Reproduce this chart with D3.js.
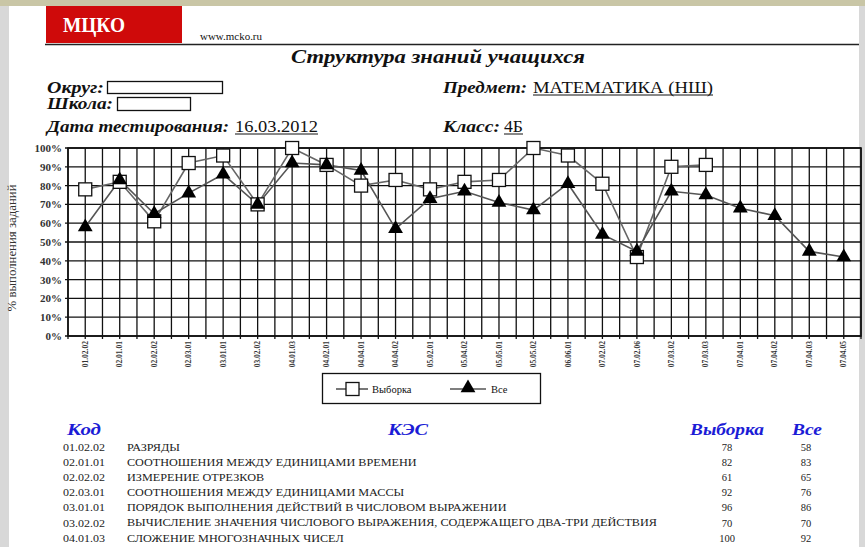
<!DOCTYPE html>
<html><head><meta charset="utf-8">
<script src="https://cdn.jsdelivr.net/npm/d3@7"></script>
<style>
html,body{margin:0;padding:0;background:#d6d6d6;}
svg{display:block;}
</style></head>
<body>
<svg id="c" width="865" height="547"></svg>
<script>
const codes = ["01.02.02","02.01.01","02.02.02","02.03.01","03.01.01","03.02.02","04.01.03","04.02.01","04.04.01","04.04.02","05.02.01","05.04.02","05.05.01","05.05.02","06.06.01","07.02.02","07.02.06","07.03.02","07.03.03","07.04.01","07.04.02","07.04.03","07.04.05"];
const sample = [78,82,61,92,96,70,100,91,80,83,78,82,83,100,96,81,42,90,91,null,null,null,null];
const allv = [58,83,65,76,86,70,92,91,88,57,73,77,71,67,81,54,45,77,75,68,64,45,42];
const yTicks = [0,10,20,30,40,50,60,70,80,90,100];
const seriesNames = ["Выборка","Все"];
const tableCodes = ["01.02.02","02.01.01","02.02.02","02.03.01","03.01.01","03.02.02","04.01.03"];
const tableKes = ["РАЗРЯДЫ","СООТНОШЕНИЯ МЕЖДУ ЕДИНИЦАМИ ВРЕМЕНИ","ИЗМЕРЕНИЕ ОТРЕЗКОВ","СООТНОШЕНИЯ МЕЖДУ ЕДИНИЦАМИ МАССЫ","ПОРЯДОК ВЫПОЛНЕНИЯ ДЕЙСТВИЙ В ЧИСЛОВОМ ВЫРАЖЕНИИ","ВЫЧИСЛЕНИЕ ЗНАЧЕНИЯ ЧИСЛОВОГО ВЫРАЖЕНИЯ, СОДЕРЖАЩЕГО ДВА-ТРИ ДЕЙСТВИЯ","СЛОЖЕНИЕ МНОГОЗНАЧНЫХ ЧИСЕЛ"];
const tableSample = [78,82,61,92,96,70,100];
const tableAll = [58,83,65,76,86,70,92];

const FF = "'Liberation Serif', 'DejaVu Serif', serif";
const svg = d3.select("#c");
// page frame
svg.append("rect").attr("x",0).attr("y",0).attr("width",865).attr("height",547).attr("fill","#d8d8d8");
svg.append("rect").attr("x",0).attr("y",0).attr("width",865).attr("height",6).attr("fill","#c9c6a6");
svg.append("rect").attr("x",9).attr("y",6).attr("width",850).attr("height",541).attr("fill","#ffffff");

function txt(sel){ return sel.append("text").style("font-family",FF); }

// header
svg.append("rect").attr("x",46).attr("y",6).attr("width",136).attr("height",37).attr("fill","#cf0a0a");
txt(svg).attr("x",63).attr("y",32).attr("fill","#fff").attr("font-weight","bold").attr("font-size",22)
  .attr("textLength",62).attr("lengthAdjust","spacingAndGlyphs").text("МЦКО");
txt(svg).attr("x",200).attr("y",40).attr("font-size",11).attr("fill","#111")
  .attr("textLength",62).attr("lengthAdjust","spacingAndGlyphs").text("www.mcko.ru");
svg.append("line").attr("x1",45).attr("x2",859).attr("y1",44.5).attr("y2",44.5).attr("stroke","#222").attr("stroke-width",1.5);

function lbl(x,y,t,w,opts={}){
  const e = txt(svg).attr("x",x).attr("y",y).attr("font-size",opts.size||15)
    .attr("font-weight",opts.weight||"bold").attr("font-style",opts.style||"italic").attr("fill",opts.fill||"#111").text(t);
  if(w) e.attr("textLength",w).attr("lengthAdjust","spacingAndGlyphs");
  if(opts.under) svg.append("line").attr("x1",x).attr("x2",x+w).attr("y1",y+2).attr("y2",y+2).attr("stroke","#111").attr("stroke-width",1);
  return e;
}
lbl(291,63,"Структура знаний учащихся",294,{size:19});
lbl(47,93,"Округ:",57,{size:16});
svg.append("rect").attr("x",107.5).attr("y",81.5).attr("width",115).attr("height",12).attr("fill","#fff").attr("stroke","#111").attr("stroke-width",1.3);
lbl(47,109,"Школа:",66,{size:16});
svg.append("rect").attr("x",117.5).attr("y",97.5).attr("width",73).attr("height",13).attr("fill","#fff").attr("stroke","#111").attr("stroke-width",1.3);
lbl(47,132,"Дата тестирования:",182,{size:16});
lbl(235,132,"16.03.2012",83,{size:16,weight:"normal",style:"normal",under:true});
lbl(443,93,"Предмет:",84,{size:16});
lbl(533,93,"МАТЕМАТИКА (НШ)",180,{size:16,weight:"normal",style:"normal",under:true});
lbl(443,132,"Класс:",57,{size:16});
lbl(504,132,"4Б",19,{size:16,weight:"normal",style:"normal",under:true});

// chart
const L=68, R=861, T=148, B=336;
const x = d3.scaleBand().domain(codes).range([L,R]).padding(0);
const bw = x.bandwidth();
const cx = c => x(c)+bw/2;
const y = d3.scaleLinear().domain([0,100]).range([B,T]);

const g = svg.append("g");
const vx = [];
codes.forEach(c=>{vx.push(x(c)); vx.push(cx(c));});
vx.push(R);
g.selectAll("line.v").data(vx).join("line").attr("class","v")
  .attr("x1",d=>d).attr("x2",d=>d).attr("y1",T).attr("y2",B+3).attr("stroke","#111").attr("stroke-width",1.3);
g.selectAll("line.h").data(yTicks).join("line").attr("class","h")
  .attr("x1",L-3).attr("x2",R).attr("y1",d=>y(d)).attr("y2",d=>y(d)).attr("stroke","#111").attr("stroke-width",1.3);
g.append("rect").attr("x",L).attr("y",T).attr("width",R-L).attr("height",B-T).attr("fill","none").attr("stroke","#111").attr("stroke-width",1.6);

// y axis labels
const ya = svg.append("g").attr("transform",`translate(${L},0)`)
  .call(d3.axisLeft(y).tickValues(yTicks).tickSize(0).tickPadding(6).tickFormat(d=>d+"%"));
ya.select(".domain").remove();
ya.selectAll("text").style("font-family",FF).attr("font-size",11).attr("font-weight","bold").attr("fill","#333");

// x axis labels
const xa = svg.append("g").attr("transform",`translate(0,${B})`)
  .call(d3.axisBottom(x).tickSize(0).tickPadding(0));
xa.select(".domain").remove();
xa.selectAll("text").style("font-family",FF).attr("font-size",7.5).attr("font-weight","bold").attr("fill","#333")
  .attr("text-anchor","end").attr("dy","0.35em")
  .attr("transform","translate(0,5) rotate(-90)");

// y title
txt(svg).attr("transform",`translate(16,${(T+B)/2+6}) rotate(-90)`).attr("text-anchor","middle")
  .attr("font-size",12).attr("fill","#333").attr("textLength",127).attr("lengthAdjust","spacingAndGlyphs").text("% выполнения заданий");

// lines
const line = d3.line().defined(d=>d.v!=null).x(d=>cx(d.c)).y(d=>y(d.v));
const sData = codes.map((c,i)=>({c,v:sample[i]}));
const aData = codes.map((c,i)=>({c,v:allv[i]}));
svg.append("path").datum(sData).attr("d",line).attr("fill","none").attr("stroke","#666").attr("stroke-width",1.6);
svg.append("path").datum(aData).attr("d",line).attr("fill","none").attr("stroke","#555").attr("stroke-width",1.6);
const sq = 13;
svg.selectAll("rect.sq").data(sData.filter(d=>d.v!=null)).join("rect").attr("class","sq")
  .attr("x",d=>cx(d.c)-sq/2).attr("y",d=>y(d.v)-sq/2).attr("width",sq).attr("height",sq)
  .attr("fill","#fff").attr("stroke","#111").attr("stroke-width",1.3);
const tri = d3.symbol().type(d3.symbolTriangle).size(95);
svg.selectAll("path.tri").data(aData).join("path").attr("class","tri")
  .attr("transform",d=>`translate(${cx(d.c)},${y(d.v)})`).attr("d",tri).attr("fill","#000");

// legend
svg.append("rect").attr("x",322.5).attr("y",373.5).attr("width",218).attr("height",30).attr("fill","#fff").attr("stroke","#111").attr("stroke-width",1.3);
svg.append("line").attr("x1",336).attr("x2",368).attr("y1",389).attr("y2",389).attr("stroke","#555").attr("stroke-width",1.6);
svg.append("rect").attr("x",346).attr("y",382.5).attr("width",sq).attr("height",sq).attr("fill","#fff").attr("stroke","#111").attr("stroke-width",1.3);
txt(svg).attr("x",372).attr("y",393).attr("font-size",10.5).attr("fill","#111").text(seriesNames[0]);
svg.append("line").attr("x1",450).attr("x2",486).attr("y1",389).attr("y2",389).attr("stroke","#555").attr("stroke-width",1.6);
svg.append("path").attr("transform","translate(468,388)").attr("d",tri).attr("fill","#000");
txt(svg).attr("x",491).attr("y",393).attr("font-size",10.5).attr("fill","#111").text(seriesNames[1]);

// table
const blue = "#1c1cd6";
lbl(67,435,"Код",34,{fill:blue,size:16});
lbl(388,435,"КЭС",40,{fill:blue,size:16});
lbl(690,435,"Выборка",74,{fill:blue,size:16});
lbl(792,435,"Все",30,{fill:blue,size:16});
const rowY = i => 451 + i*15.1;
const tg = svg.append("g");
tableCodes.forEach((c,i)=>{
  txt(tg).attr("font-size",10.5).attr("fill","#222").attr("x",63).attr("y",rowY(i)).attr("textLength",42).attr("lengthAdjust","spacingAndGlyphs").text(c);
  txt(tg).attr("font-size",11).attr("fill","#222").attr("x",127).attr("y",rowY(i)).attr("transform",`translate(127,0) scale(1.11,1) translate(-127,0)`).text(tableKes[i]);
  txt(tg).attr("font-size",10.5).attr("fill","#222").attr("x",727).attr("y",rowY(i)).attr("text-anchor","middle").text(tableSample[i]);
  txt(tg).attr("font-size",10.5).attr("fill","#222").attr("x",806).attr("y",rowY(i)).attr("text-anchor","middle").text(tableAll[i]);
});
</script>
</body></html>
